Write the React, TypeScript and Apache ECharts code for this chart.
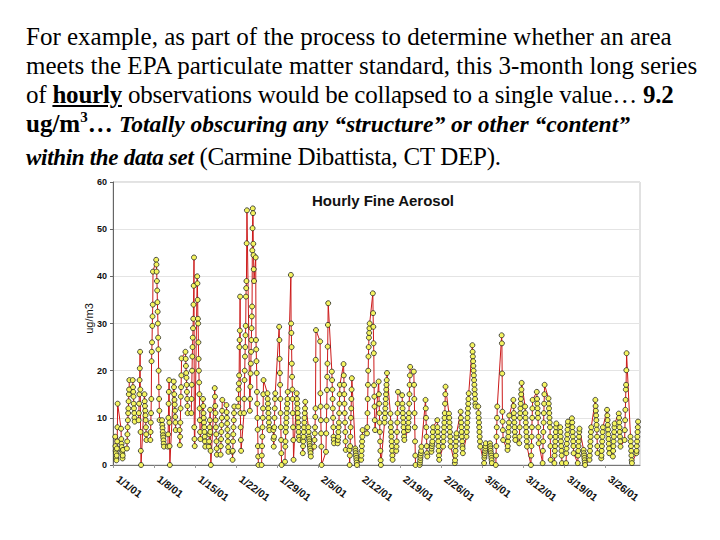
import React, { useEffect, useRef } from "react";
import * as echarts from "echarts";

// Hourly fine aerosol (ug/m3), readings per day starting 1/1/01
const hourlyByDay: number[][] = [
  [6, 4, 3, 2.5, 1.5, 1, 2, 3.5, 5, 8, 13],
  [7.7, 5.5, 4.5, 3.8, 3, 2.4, 1.4, 2, 3.2],
  [3.5, 5, 6.5, 8, 9.5, 11, 12, 13.5, 15, 16, 18],
  [18, 16.5, 15.5, 14.5, 13, 12, 11, 10, 9.2],
  [9.5, 11, 13, 15, 18, 20.5, 24, 16, 7, 3, 0],
  [15, 13.5, 12.5, 11.5, 10.5, 9.5, 8, 6.5, 5.3],
  [5.3, 7, 9, 11, 14, 22, 24, 26, 29.5, 31.5, 34, 41],
  [43.5, 42.5, 41, 39, 37, 34.5, 32.5, 30, 27, 24.5, 20, 16.5, 14, 11.5, 9.5],
  [9.5, 8.5, 7.8, 7, 6.3, 5.8, 5.2, 4.5, 3.9],
  [3.9, 6.5, 10, 13, 15.5, 18, 9, 4, 0],
  [17.7, 16.5, 15, 13.8, 12.8, 11.5, 10.2, 9, 7.4],
  [7.4, 4.2, 6, 9, 12, 14.5, 16.5, 19, 22.6],
  [24, 22.5, 21, 19.5, 18.5, 17, 15.5, 14, 12.5, 11],
  [11, 14, 17, 20, 23, 25, 27, 29, 31, 34, 38, 44, 8, 5.5, 4],
  [40, 38.5, 35, 31, 30, 26, 22.5, 20, 17.5, 15, 12, 9.5, 7, 5.5],
  [14, 12.5, 11, 10, 9, 8, 7, 6, 5, 3.9],
  [3.9, 5, 6.5, 8, 9.5, 11.7, 7, 3, 0],
  [16.3, 14.5, 12.5, 11, 9.5, 8, 6.5, 5, 3.5, 2.2],
  [2.2, 4, 5.5, 7, 8.5, 10, 11.5, 13.8],
  [12.7, 11.2, 10, 8.8, 7.5, 6.2, 5, 3.8, 2.8],
  [2.8, 1.1, 3, 5, 6.5, 8, 9.5, 11, 12.4],
  [12.4, 14, 16, 17.3, 19, 25, 26.5, 28.5, 35.7, 11, 8, 5.3, 3],
  [11, 14, 18, 20, 23, 25, 27.5, 29.5, 35.7, 37.5, 39, 47, 54],
  [11.5, 14, 16.6, 19.4, 21.5, 24, 26.5, 29, 31.5, 33.6, 45.5, 50.2, 54.4, 53.4, 46.9, 44.5, 41.5, 39],
  [44, 26.5, 24.5, 22, 19.5, 15.5, 13, 10, 7.5, 4, 1.8, 0],
  [0, 2, 4, 6, 8, 10, 12, 15, 18],
  [15.2, 14, 13, 12, 11, 10, 9, 8, 7.4],
  [7.4, 5.5, 3.9, 6, 8, 10, 12, 14, 15.2],
  [29.3, 26.5, 22.5, 19.5, 17, 14, 11, 8, 5.3, 2.5, 0],
  [0.7, 3.9, 5, 7, 8, 9, 10, 11, 12, 13, 14, 15.5],
  [40.3, 30, 28, 25, 21.5, 18.7, 16, 14, 11, 8, 5.3, 1.1],
  [15.2, 14, 13, 12, 11, 10, 9, 8, 7, 6, 5.3],
  [5.3, 2.5, 4, 5, 6, 7, 8, 9, 10, 11, 12, 13.4],
  [8, 7, 6, 5.5, 5, 4.5, 4, 3.5, 3, 2.5, 1.8],
  [3.9, 5.3, 6.7, 8, 10.2, 12, 22.3, 28.6],
  [26.2, 15.2, 12.4, 9.5, 6.7, 3.9, 0],
  [2.8, 6.7, 9.5, 12.4, 15.9, 18.7, 21.5, 25.1, 29.7, 34.3],
  [19.8, 18, 16, 14, 12, 10, 8, 6, 5.3, 4.6],
  [4.6, 5.3, 6, 7, 8, 9, 11, 13, 15, 17],
  [21.4, 19, 17, 15, 13, 11, 9, 7, 5, 3.2],
  [3.2, 0, 2, 4, 6, 8, 10, 12, 14, 16, 18.4],
  [3.5, 3, 2.5, 2, 1.5, 1, 0.5, 0],
  [1.1, 2, 3, 4, 5, 6, 7.4],
  [6.7, 8, 11, 14, 17, 20, 23, 25, 27, 28, 29, 30],
  [36.4, 32.2, 29.3, 25.8, 23.7, 16.9, 14.5, 12.4, 9.5, 7.4],
  [17.7, 15, 13, 11, 9, 7, 5, 3, 1, 0],
  [9, 10, 11, 12, 13, 14, 15, 16, 17, 18, 19.5],
  [10.9, 9, 8, 7, 6, 5, 4, 3, 2, 1.1],
  [3, 3.9, 5, 7, 9, 11, 13, 15.5],
  [14.8, 13, 12, 11, 10, 9, 8, 7, 6, 5.3],
  [7.4, 8, 9, 10, 11, 13, 15, 17, 19, 20.8],
  [19.8, 17, 14, 11, 8, 5, 2, 0],
  [0, 0.5, 1, 1.5, 2, 2.5, 3, 3.9],
  [13.8, 12, 10, 8, 6, 4, 2.5, 1.8],
  [2.8, 3.5, 4, 4.5, 5, 6, 7, 8],
  [9.5, 8, 7, 6, 5, 4, 3, 2, 1.1],
  [3.9, 5, 6, 7, 8, 9, 10, 11, 13, 15, 16.6],
  [10.9, 10, 9, 8, 7, 6, 5, 3.9],
  [0.4, 1, 2, 3, 4, 5, 6, 6.7],
  [11.3, 10, 9, 8, 7, 6, 5, 4, 3.5, 2.5],
  [6, 7, 8, 9, 10, 11, 12, 13, 14, 15.2],
  [25.4, 24, 23, 22, 21, 20, 19, 18, 17, 16, 15, 14, 13, 12.4],
  [12.4, 11, 10, 9, 8, 7, 6, 5, 3.9],
  [0.4, 1.5, 2, 2.5, 3, 3.5, 4, 4.6],
  [4.6, 4, 3.5, 3, 2.5, 2, 1.5, 1, 0.4],
  [0, 2, 4, 6, 8, 10, 12.4],
  [27.5, 25.8, 19.4, 11.3, 9.2, 7.4, 5.3],
  [3.2, 4, 5, 6, 7, 8, 9, 10.5],
  [13.8, 12.5, 11, 10, 9, 8, 7, 6, 5.3],
  [4.6, 6, 8, 10, 11, 12, 13, 14, 15, 16, 17.4],
  [12.4, 11, 10, 9, 8, 7, 6, 5, 3.9],
  [0, 2, 4, 6, 8, 10, 12, 13.8],
  [15.5, 14, 13, 12, 11, 10, 8, 6, 4.6],
  [0.4, 3, 5, 7, 9, 11, 13, 15, 17],
  [14.1, 13, 12, 11, 10, 9, 8, 6, 4, 1.1],
  [0.4, 2, 3, 4, 5, 6, 7, 8, 8.8],
  [8, 7, 6, 5, 4, 3, 2, 0.4],
  [0.4, 2.5, 3.5, 4.5, 5.5, 6.5, 7.5, 8.5, 9.2],
  [9.9, 9, 8, 7, 6, 5, 4, 2.5],
  [0.4, 2, 3, 4, 5, 6, 7, 7.7],
  [3.2, 2.5, 2, 1.5, 1, 0.5, 0],
  [1.1, 2, 3, 4, 5, 6, 7, 8],
  [13.8, 12.5, 11.5, 10.5, 9.5, 8.5, 7.5, 6, 4, 2.5],
  [1.4, 2, 3, 4, 5, 6, 7, 8],
  [11.7, 10.5, 9.5, 8.5, 7.5, 6.5, 5.5, 4.5, 3.5, 2.5],
  [1.8, 3, 4, 5, 6, 7, 8, 8.8],
  [10.9, 10, 9, 8, 7, 6, 5, 3.9],
  [5.3, 7.4, 9.5, 11.7, 13.8, 16, 17, 20.1, 23.7],
  [6, 5, 4, 3, 2, 1, 0.4],
  [2.5, 3, 4, 5, 6, 7, 8, 9.2],
];

// first reading hour of each day
const firstHour = 9;

const weekLabels = [
  "1/1/01", "1/8/01", "1/15/01", "1/22/01", "1/29/01", "2/5/01", "2/12/01",
  "2/19/01", "2/26/01", "3/5/01", "3/12/01", "3/19/01", "3/26/01",
];

const chartTitle = "Hourly Fine Aerosol";
const yName = "ug/m3";

export default function App() {
  const ref = useRef<HTMLDivElement>(null);

  useEffect(() => {
    if (!ref.current) return;
    const chart = echarts.init(ref.current, null, { renderer: "svg" });
    const points: number[][] = [];
    hourlyByDay.forEach((vals, d) => {
      vals.forEach((v, i) => points.push([d + (firstHour + i) / 24, v]));
    });
    const sans = "Liberation Sans, Arial, sans-serif";
    chart.setOption({
      animation: false,
      backgroundColor: "#ffffff",
      title: {
        text: chartTitle,
        left: 378,
        top: 188,
        textAlign: "center",
        textStyle: { fontFamily: sans, fontWeight: "bold", fontSize: 15, color: "#111" },
      },
      grid: {
        left: 113,
        right: 80,
        top: 182,
        bottom: 75,
        show: true,
        borderColor: "#c4c4c4",
        borderWidth: 1,
        backgroundColor: "transparent",
      },
      xAxis: {
        type: "value",
        min: 0,
        max: 90,
        interval: 7,
        axisLine: { show: true, lineStyle: { color: "#777", width: 1 } },
        axisTick: { show: true, length: 3, lineStyle: { color: "#999" } },
        splitLine: { show: false },
        axisLabel: {
          rotate: -37,
          margin: 9,
          padding: [0, 0, 0, 6],
          showMaxLabel: false,
          fontFamily: sans,
          fontWeight: "bold",
          fontSize: 10.5,
          color: "#111",
          formatter: (v: number) => (v % 7 === 0 ? weekLabels[v / 7] ?? "" : ""),
        },
      },
      yAxis: {
        type: "value",
        min: 0,
        max: 60,
        interval: 10,
        name: yName,
        nameLocation: "middle",
        nameGap: 19,
        nameMoveOverlap: false,
        nameTextStyle: { fontFamily: sans, fontSize: 11, color: "#111", padding: [0, 0, 0, 10] },
        axisLine: { show: true, lineStyle: { color: "#666", width: 1 } },
        axisTick: { show: true, length: 3, lineStyle: { color: "#666" } },
        splitLine: { show: true, lineStyle: { color: "#e4e4e4", width: 1 } },
        axisLabel: { margin: 6, fontFamily: sans, fontWeight: "bold", fontSize: 9, color: "#111" },
      },
      series: [
        {
          type: "line",
          data: points,
          symbol: "circle",
          symbolSize: 5,
          showAllSymbol: true,
          lineStyle: { color: "#cc1a1a", width: 1 },
          itemStyle: { color: "#f5f560", borderColor: "#222", borderWidth: 0.8 },
          emphasis: { disabled: true },
        },
      ],
    });
    return () => chart.dispose();
  }, []);

  const serif = '"Liberation Serif", "Times New Roman", serif';
  const bi: React.CSSProperties = { fontSize: 23.5, fontWeight: "bold", fontStyle: "italic" };
  return (
    <div style={{ position: "fixed", left: 0, top: 0, width: 720, height: 540, background: "#fff" }}>
      <div ref={ref} style={{ position: "absolute", left: 0, top: 0, width: 720, height: 540 }} />
      <div
        style={{
          position: "absolute",
          left: 26,
          top: 22,
          fontFamily: serif,
          fontSize: 25,
          lineHeight: "29px",
          whiteSpace: "nowrap",
          color: "#000",
        }}
      >
        <div>For example, as part of the process to determine whether an area</div>
        <div>meets the EPA particulate matter standard, this 3-month long series</div>
        <div style={{ letterSpacing: "-0.22px" }}>
          of <b><u>hourly</u></b> observations would be collapsed to a single value… <b>9.2</b>
        </div>
        <div>
          <b>
            ug/m<span style={{ fontSize: 15, position: "relative", top: -10 }}>3</span>…{" "}
          </b>
          <span style={bi}>Totally obscuring any “structure” or other “content”</span>
        </div>
        <div style={{ letterSpacing: "-0.3px" }}>
          <span style={{ ...bi, fontSize: 23 }}>within the data set</span> (Carmine Dibattista, CT DEP).
        </div>
      </div>
    </div>
  );
}
